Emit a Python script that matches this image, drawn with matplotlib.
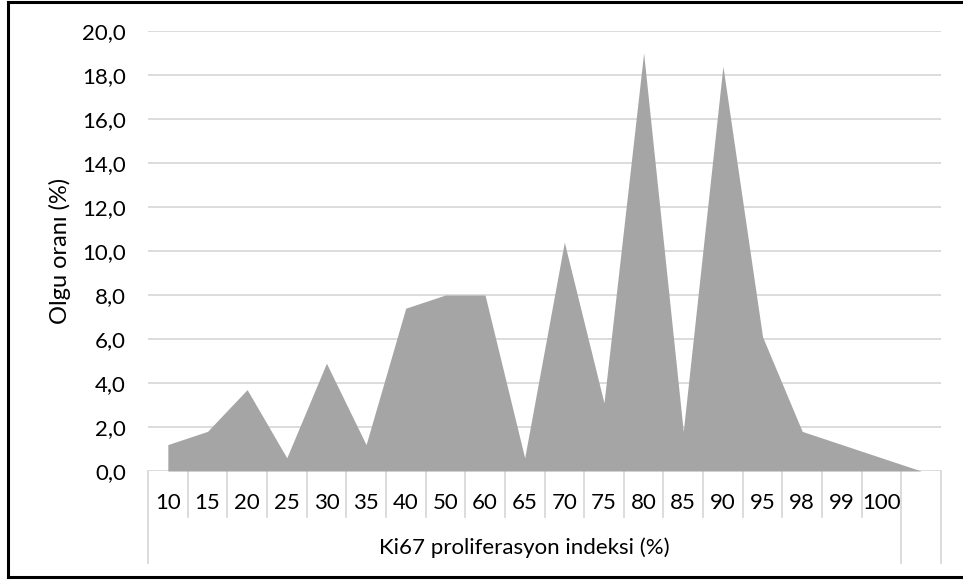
import matplotlib
matplotlib.use("Agg")
import matplotlib.pyplot as plt
import numpy as np

# Ki67 index categories and share of cases (%)
categories = ["10", "15", "20", "25", "30", "35", "40", "50", "60", "65",
              "70", "75", "80", "85", "90", "95", "98", "99", "100", ""]
rates = [1.2, 1.8, 3.7, 0.6, 4.9, 1.2, 7.4, 8.0, 8.0, 0.6,
         10.4, 3.1, 19.0, 1.8, 18.4, 6.1, 1.8, 1.2, 0.6, 0.0]
y_ticks = [0, 2, 4, 6, 8, 10, 12, 14, 16, 18, 20]
x_title = "Ki67 proliferasyon indeksi (%)"
y_title = "Olgu oranı (%)"

plt.rcParams["font.family"] = ["Lato", "DejaVu Sans"]
W, H = 963, 580
fig = plt.figure(figsize=(W / 100, H / 100), dpi=100)

# axes box in pixels: left 148, right 941, top 31, bottom 471
L, R, T, B = 148, 941, 31, 471
ax = fig.add_axes([L / W, 1 - B / H, (R - L) / W, (B - T) / H])

x = np.arange(len(categories))
ax.fill_between(x, rates, 0, color="#A5A5A5", linewidth=0, zorder=2)

ax.set_xlim(-0.5, len(categories) - 0.5)
ax.set_ylim(0, 20)
ax.set_yticks(y_ticks)
ax.set_yticklabels([f"{v:.1f}".replace(".", ",") for v in y_ticks], fontsize=16)
ax.tick_params(axis="y", length=0, pad=16)
ax.set_xticks([])
ax.yaxis.grid(True, color="#D9D9D9", linewidth=1.3, zorder=1)
ax.set_axisbelow(True)
for s in ax.spines.values():
    s.set_visible(False)

# category labels and divider lines below the axis
px = 1.0 / (B - T)
tr = ax.get_xaxis_transform()
for xi, lab in zip(x, categories):
    ax.text(xi, -32 * px, lab, transform=tr, ha="center", va="center", fontsize=16)
n = len(categories)
for k in range(n + 1):
    long_line = k in (0, n - 1, n)
    y_end = -92 * px if long_line else -46 * px
    ax.plot([k - 0.5, k - 0.5], [0, y_end], transform=tr, color="#D9D9D9",
            linewidth=1.3, clip_on=False, zorder=1)
ax.text((n - 2) / 2, -77 * px, x_title, transform=tr, ha="center", va="center",
        fontsize=16)

ax.set_ylabel(y_title, fontsize=17)
ax.yaxis.set_label_coords((60 - L) / (R - L), 0.5)
ax.yaxis.label.set_va("center")

# outer frame
fig.add_artist(plt.Line2D([8 / W, 8 / W], [1 - 1.5 / H, 1 - 577 / H], color="black", linewidth=2.2))
fig.add_artist(plt.Line2D([8 / W, 1], [1 - 1.5 / H, 1 - 1.5 / H], color="black", linewidth=2.2))
fig.add_artist(plt.Line2D([8 / W, 1], [1 - 577 / H, 1 - 577 / H], color="black", linewidth=2.2))

fig.savefig("out.png", dpi=100)
